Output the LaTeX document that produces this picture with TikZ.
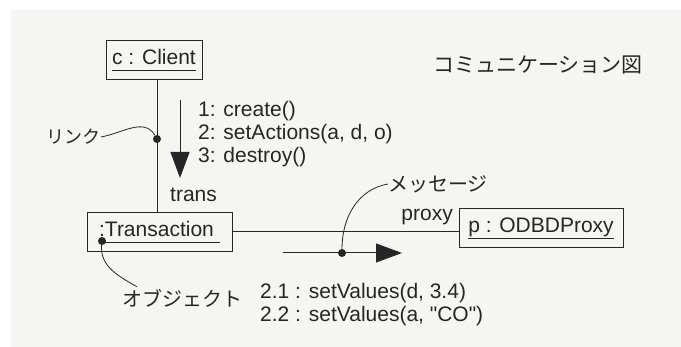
\documentclass[tikz,border=0pt]{standalone}
\usepackage{fontspec}
\setmainfont{Liberation Sans}[Ligatures=TeXOff]
\newfontfamily\jpfont{Noto Sans CJK JP}
\usetikzlibrary{arrows.meta}
\definecolor{tinta}{HTML}{262626}
\definecolor{fondo}{HTML}{F5F5F3}
\newcommand{\subr}[1]{\underline{#1\vphantom{p}}}
\begin{document}
\begin{tikzpicture}[x=1pt,y=-1pt,
    objeto/.style={draw=tinta, line width=1pt, minimum height=39pt, inner sep=0pt},
    texto/.style={inner sep=0pt, text=tinta, font=\fontsize{21}{23}\selectfont},
    jtexto/.style={inner sep=0pt, text=tinta, font=\jpfont\fontsize{20}{24}\selectfont},
    enlace/.style={draw=tinta, line width=1pt},
    punto/.style={circle, fill=tinta, inner sep=0pt, minimum size=8pt},
    mensaje/.style={draw=tinta, line width=1pt, -{Triangle[length=26pt,width=19pt]}}]

    % fondo de la hoja escaneada
    \fill[white] (0,0) rectangle (681,347);
    \fill[fondo] (11,10) rectangle (681,347);
    \useasboundingbox (0,0) rectangle (681,347);

    % título
    \node[jtexto, font=\jpfont\fontsize{21}{24}\selectfont, anchor=west] (titulo) at (433,65) {コミュニケーション図};

    % objetos
    \node[objeto, texto, minimum width=96pt] (client) at (154,60) {\subr{c : Client}};
    \node[objeto, texto, minimum width=145pt] (trans) at (159.5,232) {\subr{:Transaction\hspace{6pt}}};
    \node[objeto, texto, minimum width=164pt] (proxy) at (541,228) {\subr{p : ODBDProxy}};

    % enlaces
    \draw[enlace] ([xshift=3pt]client.south) -- ([xshift=-2.5pt]trans.north);
    \draw[enlace] (trans.east) -- (trans.east -| proxy.west);

    % roles
    \node[texto, anchor=base west] (rtrans) at (170,202) {trans};
    \node[texto, anchor=base east] (rproxy) at (453,221) {proxy};

    % mensajes 1 a 3
    \coordinate (m1a) at (180,100);
    \coordinate (m1b) at (180,178);
    \draw[mensaje] (m1a) -- (m1b);
    \node[texto, anchor=north west, align=left] (msg1) at (198,101)
        {1: create()\\2: setActions(a, d, o)\\3: destroy()};

    % mensajes 2.1 y 2.2
    \coordinate (m2a) at (283,253);
    \coordinate (m2b) at (402,253);
    \draw[mensaje] (m2a) -- (m2b);
    \node[texto, anchor=north west, align=left] (msg2) at (260,283)
        {2.1 : setValues(d, 3.4)\\2.2 : setValues(a, "CO")};

    % puntos señalados
    \node[punto] (plink) at (157,139) {};
    \node[punto] (pobj) at (102,241) {};
    \node[punto] (pmsg) at (342,253) {};

    % etiquetas con su curva
    \node[jtexto, font=\jpfont\fontsize{18}{22}\selectfont, anchor=east] (lenlace) at (101,137) {リンク};
    \draw[enlace, line width=0.8pt] (lenlace.east) to[out=10,in=120] (plink);

    \node[jtexto, anchor=west] (lobjeto) at (122,298) {オブジェクト};
    \draw[enlace, line width=0.8pt] (pobj) to[out=-95,in=150] ([xshift=15pt,yshift=2pt]lobjeto.north west);

    \node[jtexto, anchor=west] (lmensaje) at (388,184) {メッセージ};
    \draw[enlace, line width=0.8pt] (pmsg) to[out=90,in=190] (lmensaje.west);
\end{tikzpicture}
\end{document}
